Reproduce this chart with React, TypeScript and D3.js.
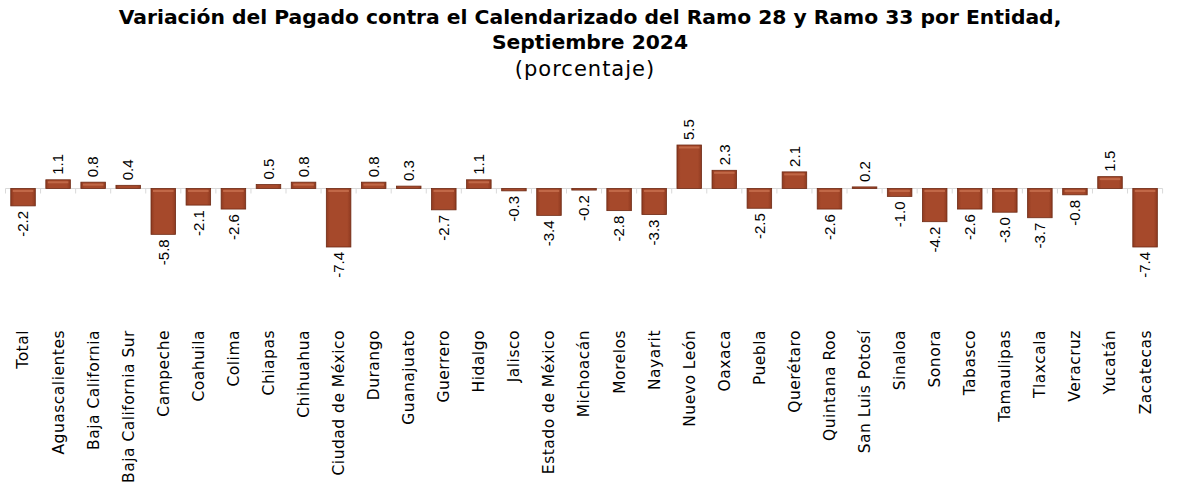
import React from 'react';
import * as d3 from 'd3';

const entidades = [
  'Total', 'Aguascalientes', 'Baja California', 'Baja California Sur', 'Campeche', 'Coahuila',
  'Colima', 'Chiapas', 'Chihuahua', 'Ciudad de México', 'Durango', 'Guanajuato', 'Guerrero',
  'Hidalgo', 'Jalisco', 'Estado de México', 'Michoacán', 'Morelos', 'Nayarit', 'Nuevo León',
  'Oaxaca', 'Puebla', 'Querétaro', 'Quintana Roo', 'San Luis Potosí', 'Sinaloa', 'Sonora',
  'Tabasco', 'Tamaulipas', 'Tlaxcala', 'Veracruz', 'Yucatán', 'Zacatecas',
];

const variacion = [
  -2.2, 1.1, 0.8, 0.4, -5.8, -2.1, -2.6, 0.5, 0.8, -7.4, 0.8, 0.3, -2.7, 1.1, -0.3, -3.4, -0.2,
  -2.8, -3.3, 5.5, 2.3, -2.5, 2.1, -2.6, 0.2, -1.0, -4.2, -2.6, -3.0, -3.7, -0.8, 1.5, -7.4,
];

const titulo = [
  'Variación del Pagado contra el Calendarizado del Ramo 28 y Ramo 33 por Entidad,',
  'Septiembre 2024',
];
const subtitulo = '(porcentaje)';

const width = 1178;
const height = 482;

export default function App() {
  const x = d3.scaleBand<string>()
    .domain(entidades)
    .range([5.5, 1162.6])
    .paddingInner(0.3)
    .paddingOuter(0.15);
  const y = d3.scaleLinear().domain([-7.4, 5.5]).range([247, 145]);
  const y0 = y(0);
  const step = x.step();
  const fmt = (v: number) => d3.format('.1f')(v).replace('\u2212', '-');
  const labelFont = 'Liberation Sans, Arial, sans-serif';
  const catFont = 'DejaVu Sans, Verdana, sans-serif';

  return (
    <svg width={width} height={height} style={{ position: 'absolute', left: 0, top: 0 }}>
      <defs>
        <linearGradient id="barFill" x1="0" x2="1" y1="0" y2="0">
          <stop offset="0" stopColor="#8f3a20" />
          <stop offset="0.15" stopColor="#a6492b" />
          <stop offset="0.85" stopColor="#a6492b" />
          <stop offset="1" stopColor="#8f3a20" />
        </linearGradient>
      </defs>
      <rect width={width} height={height} fill="#ffffff" />

      <g fontFamily={catFont} textAnchor="middle" fill="#000">
        <text x={590} y={24} fontSize={20.3} fontWeight="bold">{titulo[0]}</text>
        <text x={590} y={49} fontSize={20.3} fontWeight="bold">{titulo[1]}</text>
        <text x={585} y={76} fontSize={21} letterSpacing={1}>{subtitulo}</text>
      </g>

      {/* eje horizontal en cero */}
      <line x1={x.range()[0]} x2={x.range()[1]} y1={y0} y2={y0} stroke="#d9d9d9" strokeWidth={1.2} />
      {entidades.map((d, i) => (
        <line key={'t' + i} x1={(x(d) as number) - (step - x.bandwidth()) / 2}
          x2={(x(d) as number) - (step - x.bandwidth()) / 2}
          y1={y0} y2={y0 + 5} stroke="#d9d9d9" strokeWidth={1} />
      ))}
      <line x1={x.range()[1]} x2={x.range()[1]} y1={y0} y2={y0 + 5} stroke="#d9d9d9" />

      {entidades.map((d, i) => {
        const v = variacion[i];
        const bx = x(d) as number;
        const top = Math.min(y(v), y0);
        const h = Math.max(Math.abs(y(v) - y0), 1.5);
        return (
          <g key={d}>
            <rect x={bx} y={top} width={x.bandwidth()} height={h}
              fill="url(#barFill)" stroke="#6e2a14" strokeWidth={0.8} />
            {h > 4 && (
              <rect x={bx + 2} y={top + 1.5} width={x.bandwidth() - 4} height={2}
                fill="#c8704f" opacity={0.8} />
            )}
          </g>
        );
      })}

      <g fontFamily={labelFont} fontSize={15} fill="#000">
        {entidades.map((d, i) => {
          const v = variacion[i];
          const cx = (x(d) as number) + x.bandwidth() / 2;
          const ay = v >= 0 ? y(v) - 5 : y(v) + 5;
          return (
            <text key={'v' + i} transform={`translate(${cx},${ay}) rotate(-90)`}
              textAnchor={v >= 0 ? 'start' : 'end'} dy="0.35em">
              {fmt(v)}
            </text>
          );
        })}
      </g>

      <g fontFamily={catFont} fontSize={15.5} letterSpacing={0.5} fill="#000">
        {entidades.map((d, i) => {
          const cx = (x(d) as number) + x.bandwidth() / 2;
          return (
            <text key={'c' + i} transform={`translate(${cx},330) rotate(-90)`}
              textAnchor="end" dy="0.35em">
              {d}
            </text>
          );
        })}
      </g>
    </svg>
  );
}
